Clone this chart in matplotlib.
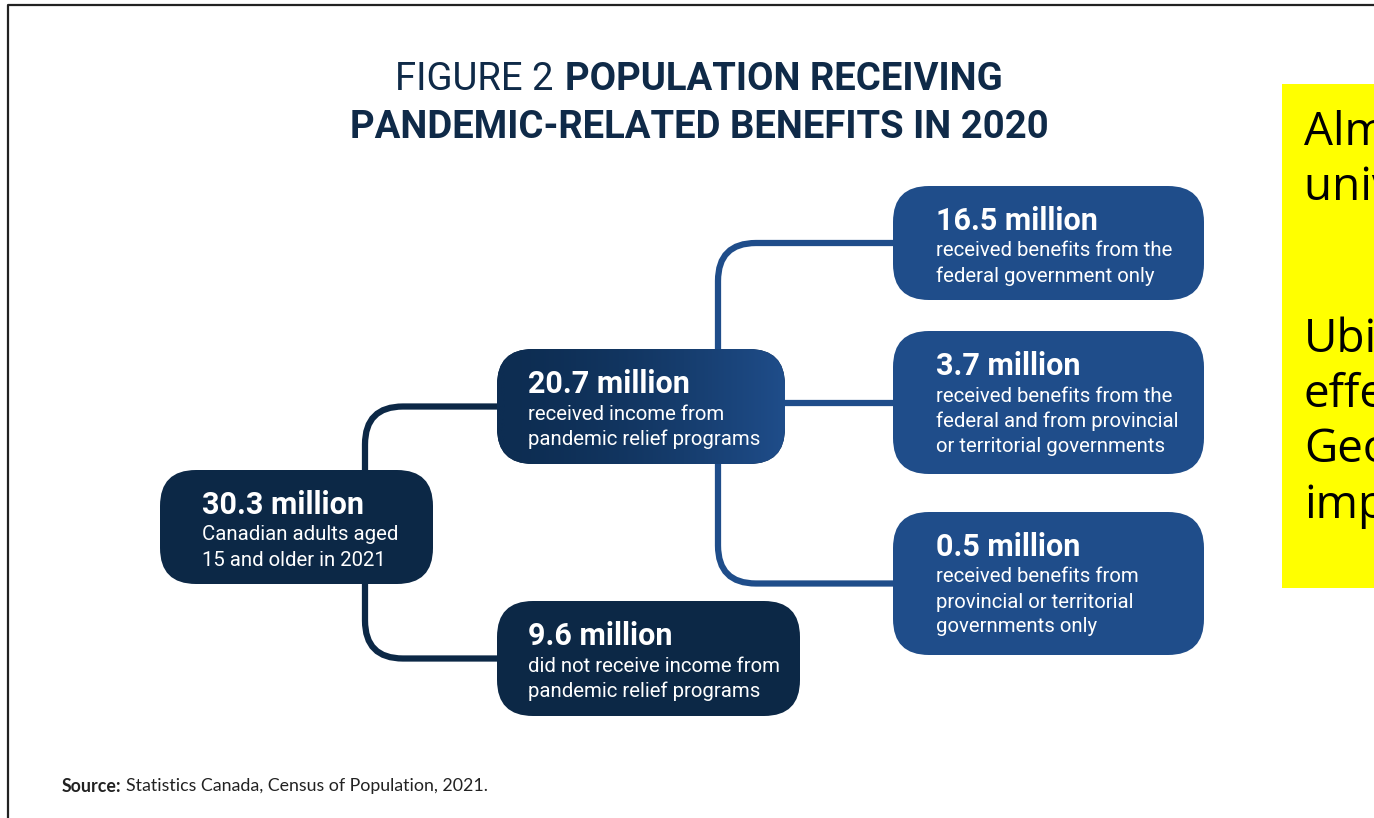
import matplotlib.pyplot as plt
import numpy as np
from matplotlib.patches import FancyBboxPatch, PathPatch, Rectangle
from matplotlib.colors import LinearSegmentedColormap
from matplotlib.path import Path

W, H = 1374, 818
NAVY = '#0c2846'
BLUE = '#1f4d8a'
BOX_FONT = 'Roboto'

# population counts (millions) and what each one means
values = [30.3, 20.7, 9.6, 16.5, 3.7, 0.5]
descriptions = [
    ['Canadian adults aged', '15 and older in 2021'],
    ['received income from', 'pandemic relief programs'],
    ['did not receive income from', 'pandemic relief programs'],
    ['received benefits from the', 'federal government only'],
    ['received benefits from the', 'federal and from provincial', 'or territorial governments'],
    ['received benefits from', 'provincial or territorial', 'governments only'],
]
# tree structure: parent -> children
edges = [(0, 1), (0, 2), (1, 3), (1, 4), (1, 5)]

title_line1 = [('FIGURE 2', 'normal'), ('POPULATION RECEIVING', 'bold')]
title_line2 = [('PANDEMIC-RELATED BENEFITS IN 2020', 'bold')]
source_bold = 'Source:'
source_text = 'Statistics Canada, Census of Population, 2021.'
note_lines = ['Almost a', 'universal benefit', 'Ubiquitous', 'effects.', 'Geography', 'important']
note_y = [133, 188, 340, 395, 450, 506]

# layout in pixels: left, top, right, bottom, fill, text x
box_layout = [
    (160, 470, 433, 584, NAVY, 202),
    (497, 349, 785, 464, 'grad', 528),
    (497, 601, 800, 716, NAVY, 528),
    (893, 186, 1204, 300, BLUE, 936),
    (893, 331, 1204, 474, BLUE, 936),
    (893, 512, 1204, 655, BLUE, 936),
]
trunk_x = {0: 365, 1: 718}
line_color = {0: NAVY, 1: BLUE}

fig = plt.figure(figsize=(W / 100, H / 100), dpi=100)
ax = fig.add_axes([0, 0, 1, 1])
ax.set_xlim(0, W)
ax.set_ylim(H, 0)
ax.axis('off')

# page frame (top and left edges)
ax.plot([8, 8, W], [H, 5, 5], color='#222222', lw=1.6, solid_capstyle='butt')

# connectors
r = 38
for p, c in edges:
    px0, py0, px1, py1 = box_layout[p][:4]
    cx0, cy0, cx1, cy1 = box_layout[c][:4]
    cy = (cy0 + cy1) / 2
    pc = (py0 + py1) / 2
    tx = trunk_x[p]
    if abs(cy - pc) < 10:
        verts = [(px1 - 5, cy), (cx0 + 5, cy)]
        codes = [Path.MOVETO, Path.LINETO]
    else:
        s = -1 if cy < pc else 1
        ys = py0 + 5 if s < 0 else py1 - 5
        verts = [(tx, ys), (tx, cy - s * r), (tx, cy), (tx + r, cy), (cx0 + 5, cy)]
        codes = [Path.MOVETO, Path.LINETO, Path.CURVE3, Path.CURVE3, Path.LINETO]
    ax.add_patch(PathPatch(Path(verts, codes), fill=False, ec=line_color[p],
                           lw=4.5, capstyle='butt', zorder=1))

# boxes
grad_cmap = LinearSegmentedColormap.from_list('g', ['#0d2d52', '#1f4d8a'])
for i, (x0, y0, x1, y1, fill, tx) in enumerate(box_layout):
    rad = 36
    patch = FancyBboxPatch((x0 + rad, y0 + rad), x1 - x0 - 2 * rad, y1 - y0 - 2 * rad,
                           boxstyle=f'round,pad={rad}', lw=0,
                           fc=NAVY if fill == 'grad' else fill, zorder=2)
    ax.add_patch(patch)
    if fill == 'grad':
        g = np.linspace(0, 1, 256).reshape(1, -1) ** 1.6
        im = ax.imshow(g, extent=[x0, x1, y1, y0], cmap=grad_cmap, aspect='auto', zorder=2.5)
        im.set_clip_path(patch)
    yh = y0 + 35
    ax.text(tx, yh, f'{values[i]} million', color='white', fontsize=22, fontweight='bold',
            family=BOX_FONT, va='center', ha='left', zorder=3)
    for j, line in enumerate(descriptions[i]):
        ax.text(tx, yh + 30 + 25 * j, line, color='white', fontsize=14.7,
                family=BOX_FONT, va='center', ha='left', zorder=3)
ax.set_xlim(0, W)
ax.set_ylim(H, 0)

# title, mixed weights centred on one line
fig.canvas.draw()
rend = fig.canvas.get_renderer()


def centred_line(pieces, y, size, gap=11):
    texts = [ax.text(0, y, s, fontsize=size, fontweight=w, family=BOX_FONT,
                     color='#0f2a48', va='center', ha='left') for s, w in pieces]
    widths = [t.get_window_extent(rend).width for t in texts]
    x = 699 - (sum(widths) + gap * (len(texts) - 1)) / 2
    for t, w in zip(texts, widths):
        t.set_x(x)
        x += w + gap


centred_line(title_line1, 79, 27.5)
centred_line(title_line2, 127, 27.5)

# source note
t = ax.text(62, 786, source_bold, fontsize=12.8, fontweight='bold', family='Lato',
            color='#222222', va='center', ha='left')
w = t.get_window_extent(rend).width
ax.text(62 + w + 4, 786, source_text, fontsize=12.8, family='Lato',
        color='#222222', va='center', ha='left')

# highlighted side note
ax.add_patch(Rectangle((1282, 84), W - 1282 + 10, 588 - 84, fc='#ffff00', lw=0, zorder=2))
for line, y in zip(note_lines, note_y):
    ax.text(1304, y, line, fontsize=33, family='Open Sans',
            color='black', va='center', ha='left', zorder=3)

fig.savefig('out.png', dpi=100)
